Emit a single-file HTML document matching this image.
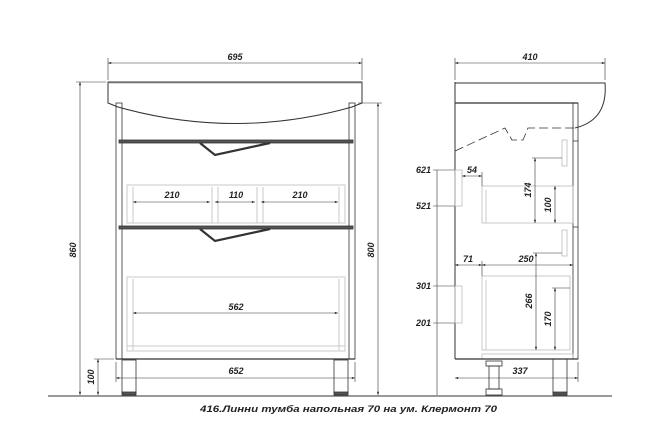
<!DOCTYPE html>
<html><head><meta charset="utf-8"><style>
html,body{margin:0;padding:0;background:#fff;}
svg{display:block;}
text{font-family:"Liberation Sans",sans-serif;font-weight:bold;font-style:italic;font-size:9px;fill:#222;}
</style></head><body>
<svg width="666" height="444" viewBox="0 0 666 444" xmlns="http://www.w3.org/2000/svg">
<defs>
<marker id="a" viewBox="0 0 8 6" refX="8" refY="3" markerWidth="6" markerHeight="4" orient="auto-start-reverse"><path d="M0,0 L8,3 L0,6z" fill="#333"/></marker>
</defs>
<g fill="none" stroke="#333" stroke-width="0.8">
<!-- ground -->
<line x1="48" y1="396" x2="612" y2="396" stroke-width="1"/>
<!-- FRONT: sink -->
<path d="M108,82 H362 V103 L352,107 Q235,140 118,107 L108,103 Z" stroke-width="1"/>
<line x1="108" y1="83" x2="362" y2="83" stroke="#999"/>
<!-- sides -->
<rect x="116" y="103" width="6" height="256"/>
<rect x="349" y="103" width="6" height="256"/>
<!-- top bars -->
<rect x="119" y="140" width="234" height="3" fill="#555"/>
<rect x="119" y="226" width="234" height="3" fill="#555"/>
<!-- handles -->
<path d="M200,143 L215,155 L270,143" stroke-width="2.2"/>
<path d="M200,229 L215,241 L270,229" stroke-width="2.2"/>
<!-- drawer boxes -->
<g stroke="#bbb">
<rect x="127" y="185" width="218" height="38"/>
<line x1="133" y1="187" x2="133" y2="223"/><line x1="339" y1="187" x2="339" y2="223"/>
<line x1="212" y1="187" x2="212" y2="223"/><line x1="218" y1="187" x2="218" y2="223"/>
<line x1="257" y1="187" x2="257" y2="223"/><line x1="263" y1="187" x2="263" y2="223"/>
<rect x="127" y="277" width="218" height="74"/>
<line x1="133" y1="279" x2="133" y2="350"/><line x1="339" y1="279" x2="339" y2="350"/>
<line x1="127" y1="346" x2="345" y2="346"/>
</g>
<line x1="116" y1="359" x2="355" y2="359" stroke-width="1.2"/>
<!-- legs -->
<rect x="122" y="360" width="14" height="33"/>
<rect x="122" y="392" width="14" height="3" fill="#555"/>
<rect x="334" y="360" width="14" height="33"/>
<rect x="334" y="392" width="14" height="3" fill="#555"/>
<!-- front dims -->
<g stroke-width="0.6">
<line x1="108" y1="58" x2="108" y2="80"/><line x1="362" y1="58" x2="362" y2="80"/>
<line x1="108" y1="63" x2="362" y2="63" marker-start="url(#a)" marker-end="url(#a)"/>
<line x1="76" y1="82" x2="106" y2="82"/>
<line x1="80" y1="82" x2="80" y2="395" marker-start="url(#a)" marker-end="url(#a)"/>
<line x1="358" y1="103" x2="382" y2="103"/>
<line x1="378" y1="103" x2="378" y2="395" marker-start="url(#a)" marker-end="url(#a)"/>
<line x1="94" y1="359" x2="114" y2="359"/>
<line x1="98" y1="359" x2="98" y2="395" marker-start="url(#a)" marker-end="url(#a)"/>
<line x1="116" y1="362" x2="116" y2="382"/><line x1="355" y1="362" x2="355" y2="382"/>
<line x1="116" y1="378" x2="355" y2="378" marker-start="url(#a)" marker-end="url(#a)"/>
<line x1="133" y1="313" x2="338" y2="313" marker-start="url(#a)" marker-end="url(#a)"/>
<line x1="133" y1="202" x2="210" y2="202" marker-start="url(#a)" marker-end="url(#a)"/>
<line x1="215" y1="202" x2="255" y2="202" marker-start="url(#a)" marker-end="url(#a)"/>
<line x1="261" y1="202" x2="338" y2="202" marker-start="url(#a)" marker-end="url(#a)"/>
</g>
<!-- SIDE view -->
<line x1="455" y1="82" x2="455" y2="359" stroke-width="1"/>
<path d="M455,83 H605 Q608,120 575,128" stroke-width="1"/>
<path d="M455,151 L505,128 L512,140 L523,140 L528,128 L575,128" stroke-dasharray="9,4"/>
<line x1="455" y1="103" x2="578" y2="103" stroke-width="1.3"/>
<rect x="573" y="103" width="5" height="256"/>
<line x1="573" y1="141" x2="578" y2="141"/><line x1="573" y1="227" x2="578" y2="227"/>
<g stroke="#bbb">
<rect x="562" y="140" width="5" height="26"/>
<rect x="562" y="230" width="5" height="26"/>
<rect x="482" y="186" width="91" height="37"/>
<rect x="482" y="276" width="88" height="74"/>
<line x1="486" y1="280" x2="486" y2="350"/><line x1="486" y1="190" x2="486" y2="223"/>
<rect x="455" y="170" width="7" height="36"/>
<rect x="455" y="286" width="7" height="37"/>
<rect x="482" y="354" width="91" height="5"/>
</g>
<line x1="455" y1="359" x2="578" y2="359" stroke-width="1.2"/>
<rect x="486" y="361" width="16" height="5"/>
<rect x="489" y="366" width="10" height="23"/>
<rect x="486" y="389" width="16" height="6"/>
<rect x="553" y="359" width="14" height="34"/>
<rect x="553" y="392" width="14" height="3" fill="#555"/>
<g stroke-width="0.6">
<line x1="455" y1="58" x2="455" y2="80"/><line x1="605" y1="58" x2="605" y2="80"/>
<line x1="455" y1="63" x2="605" y2="63" marker-start="url(#a)" marker-end="url(#a)"/>
<line x1="437" y1="170" x2="437" y2="395"/>
<line x1="433" y1="170" x2="455" y2="170"/><line x1="433" y1="206" x2="455" y2="206"/>
<line x1="433" y1="286" x2="455" y2="286"/><line x1="433" y1="323" x2="455" y2="323"/>
<line x1="462" y1="176" x2="482" y2="176" marker-start="url(#a)" marker-end="url(#a)"/>
<line x1="482" y1="172" x2="482" y2="186"/>
<line x1="532" y1="158" x2="562" y2="158"/>
<line x1="535" y1="158" x2="535" y2="223" marker-start="url(#a)" marker-end="url(#a)"/>
<line x1="555" y1="186" x2="555" y2="223" marker-start="url(#a)" marker-end="url(#a)"/>
<line x1="455" y1="265" x2="482" y2="265" marker-start="url(#a)" marker-end="url(#a)"/>
<line x1="482" y1="265" x2="573" y2="265" marker-start="url(#a)" marker-end="url(#a)"/>
<line x1="482" y1="261" x2="482" y2="276"/>
<line x1="533" y1="253" x2="562" y2="253"/>
<line x1="536" y1="253" x2="536" y2="350" marker-start="url(#a)" marker-end="url(#a)"/>
<line x1="552" y1="288" x2="570" y2="288"/>
<line x1="555" y1="288" x2="555" y2="350" marker-start="url(#a)" marker-end="url(#a)"/>
<line x1="578" y1="362" x2="578" y2="382"/>
<line x1="455" y1="378" x2="578" y2="378" marker-start="url(#a)" marker-end="url(#a)"/>
</g>
</g>
<g>
<text x="235" y="60" text-anchor="middle">695</text>
<text x="530" y="60" text-anchor="middle">410</text>
<text x="172" y="198" text-anchor="middle">210</text>
<text x="236" y="198" text-anchor="middle">110</text>
<text x="300" y="198" text-anchor="middle">210</text>
<text x="236" y="310" text-anchor="middle">562</text>
<text x="236" y="374" text-anchor="middle">652</text>
<text transform="translate(76,250) rotate(-90)" text-anchor="middle">860</text>
<text transform="translate(374,250) rotate(-90)" text-anchor="middle">800</text>
<text transform="translate(94,377) rotate(-90)" text-anchor="middle">100</text>
<text x="431" y="173" text-anchor="end">621</text>
<text x="431" y="209" text-anchor="end">521</text>
<text x="431" y="289" text-anchor="end">301</text>
<text x="431" y="326" text-anchor="end">201</text>
<text x="472" y="173" text-anchor="middle">54</text>
<text x="468" y="262" text-anchor="middle">71</text>
<text x="526" y="262" text-anchor="middle">250</text>
<text x="520" y="374" text-anchor="middle">337</text>
<text transform="translate(531,190) rotate(-90)" text-anchor="middle">174</text>
<text transform="translate(551,205) rotate(-90)" text-anchor="middle">100</text>
<text transform="translate(532,301) rotate(-90)" text-anchor="middle">266</text>
<text transform="translate(551,319) rotate(-90)" text-anchor="middle">170</text>
<text x="200" y="412" font-size="10.5" textLength="297" lengthAdjust="spacingAndGlyphs">416.Линни тумба напольная 70 на ум. Клермонт 70</text>
</g>
</svg>
</body></html>
